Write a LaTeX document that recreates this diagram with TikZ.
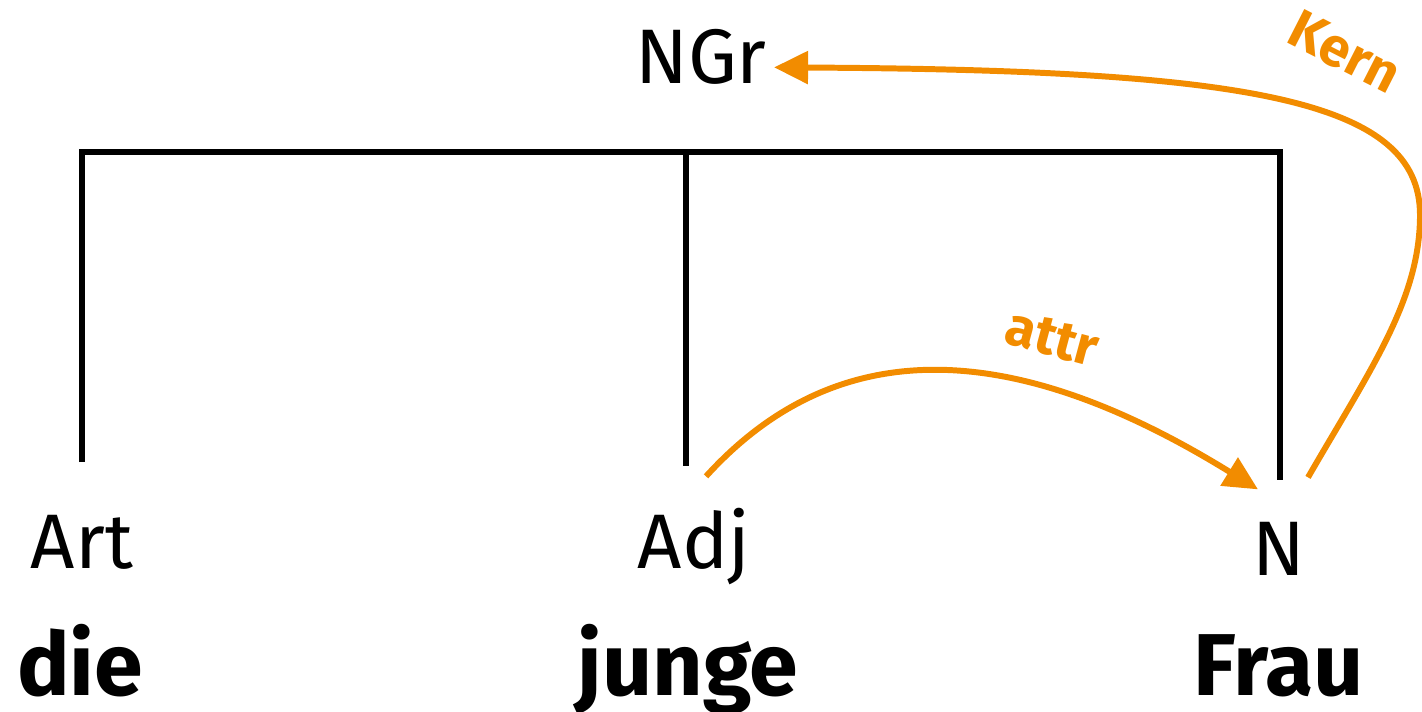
\documentclass[tikz,border=0pt]{standalone}
\usepackage{fontspec}
\setmainfont{Fira Sans}
\usetikzlibrary{arrows.meta}
\definecolor{relorange}{RGB}{242,140,0}
\tikzset{
  cat/.style={font=\fontsize{44}{50}\selectfont, inner sep=0pt, anchor=base},
  word/.style={font=\fontsize{50}{56}\selectfont\bfseries, inner sep=0pt, anchor=base},
  rel/.style={font=\fontsize{31}{35}\selectfont\bfseries, text=relorange, inner sep=0pt},
  tree/.style={line width=3.4pt},
  dep/.style={relorange, line width=3.4pt, -{Triangle[length=0.68cm,width=0.64cm]}},
}
\begin{document}
\begin{tikzpicture}[x=0.02cm,y=-0.02cm]
 \useasboundingbox (0,0) rectangle (1422,712);
 % categories
 \node[cat] (ngr) at (701,84) {NGr};
 \node[cat] (art) at (82,568) {Art};
 \node[cat] (adj) at (694,568) {Adj};
 \node[cat] (n) at (1279,575) {N};
 % words
 \node[word] (die) at (80,695) {die};
 \node[word] (junge) at (688,695) {junge};
 \node[word] (frau) at (1279,695) {Frau};
 % tree
 \draw[tree] (82,462) -- (82,152) -- (1280,152) -- (1280,480);
 \draw[tree] (686,152) -- (686,466);
 % dependencies
 \coordinate (attr-from) at ([shift={(12,-31)}]adj.north);
 \coordinate (attr-to) at ([shift={(-21,-32)}]n.north);
 \coordinate (kern-from) at ([shift={(29,-44)}]n.north);
 \draw[dep] (attr-from) .. controls (830,340) and (1000,330) .. (attr-to);
 \draw[dep] (kern-from) .. controls (1370,370) and (1420,300) .. (1420,215)
   .. controls (1420,100) and (1250,70) .. ([shift={(7,10)}]ngr.east);
 % labels
 \node[rel, rotate=-15] (attr) at (1052,338) {attr};
 \node[rel, rotate=-27] (kern) at (1345,52) {Kern};
\end{tikzpicture}
\end{document}
